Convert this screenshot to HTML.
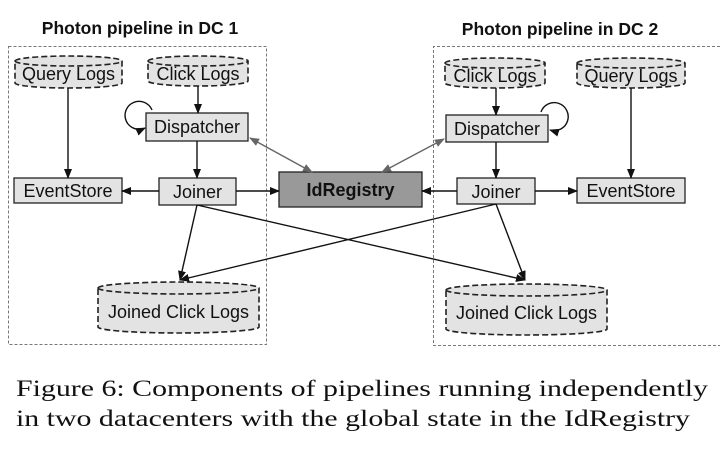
<!DOCTYPE html>
<html><head><meta charset="utf-8"><style>
html,body{margin:0;padding:0;background:#fff;width:720px;height:450px;overflow:hidden}
svg{display:block}
text{font-family:"Liberation Sans",Arial,sans-serif;fill:#111}
</style></head><body>
<svg width="720" height="450" viewBox="0 0 720 450" xmlns="http://www.w3.org/2000/svg">
<defs>
<marker id="a" markerWidth="10" markerHeight="8" refX="9" refY="4" orient="auto" markerUnits="userSpaceOnUse"><path d="M0,0 L10,4 L0,8 z" fill="#111"/></marker>
<marker id="g" markerWidth="10" markerHeight="8" refX="9" refY="4" orient="auto" markerUnits="userSpaceOnUse"><path d="M0,0 L10,4 L0,8 z" fill="#666"/></marker>
<marker id="gs" markerWidth="10" markerHeight="8" refX="1" refY="4" orient="auto" markerUnits="userSpaceOnUse"><path d="M10,0 L0,4 L10,8 z" fill="#666"/></marker>
</defs>

<text x="140" y="34" text-anchor="middle" font-size="17.5" font-weight="bold">Photon pipeline in DC 1</text>
<text x="560" y="35" text-anchor="middle" font-size="17.5" font-weight="bold">Photon pipeline in DC 2</text>

<rect x="8.5" y="46.5" width="258" height="298" fill="none" stroke="#777" stroke-width="1" stroke-dasharray="3,2"/>
<path d="M720,46.5 L433.5,46.5 L433.5,345.5 L720,345.5" fill="none" stroke="#777" stroke-width="1" stroke-dasharray="3,2"/>

<g stroke="#222" stroke-width="1.6" stroke-dasharray="6,3" fill="#e3e3e3">
<path d="M15,61 A53.5,5 0 0 1 122,61 L122,83 A53.5,5 0 0 1 15,83 Z"/><path d="M15,61 A53.5,5 0 0 0 122,61" fill="none"/>
<path d="M148,61 A50,5 0 0 1 248,61 L248,81 A50,5 0 0 1 148,81 Z"/><path d="M148,61 A50,5 0 0 0 248,61" fill="none"/>
<path d="M445,63 A50,5 0 0 1 545,63 L545,83 A50,5 0 0 1 445,83 Z"/><path d="M445,63 A50,5 0 0 0 545,63" fill="none"/>
<path d="M577,63 A54,5 0 0 1 685,63 L685,83 A54,5 0 0 1 577,83 Z"/><path d="M577,63 A54,5 0 0 0 685,63" fill="none"/>
<path d="M98,288 A80.5,6 0 0 1 259,288 L259,327 A80.5,6 0 0 1 98,327 Z"/><path d="M98,288 A80.5,6 0 0 0 259,288" fill="none"/>
<path d="M446,290 A80.5,6 0 0 1 607,290 L607,329 A80.5,6 0 0 1 446,329 Z"/><path d="M446,290 A80.5,6 0 0 0 607,290" fill="none"/>
</g>

<g stroke="#222" stroke-width="1.3" fill="#e3e3e3">
<rect x="146" y="113" width="102" height="28"/>
<rect x="14" y="178" width="108" height="25"/>
<rect x="159" y="178" width="77" height="27"/>
<rect x="446" y="115" width="102" height="27"/>
<rect x="457" y="178" width="78" height="26"/>
<rect x="577" y="178" width="108" height="25"/>
<rect x="279" y="172" width="143" height="35" fill="#999"/>
</g>

<g font-size="18">
<text x="68.5" y="80" text-anchor="middle">Query Logs</text>
<text x="198" y="80" text-anchor="middle">Click Logs</text>
<text x="495" y="82" text-anchor="middle">Click Logs</text>
<text x="631" y="82" text-anchor="middle">Query Logs</text>
<text x="178.5" y="318" text-anchor="middle">Joined Click Logs</text>
<text x="526.5" y="319" text-anchor="middle">Joined Click Logs</text>
<text x="197" y="133" text-anchor="middle">Dispatcher</text>
<text x="68" y="197" text-anchor="middle">EventStore</text>
<text x="197.5" y="198" text-anchor="middle">Joiner</text>
<text x="497" y="135" text-anchor="middle">Dispatcher</text>
<text x="496" y="198" text-anchor="middle">Joiner</text>
<text x="631" y="197" text-anchor="middle">EventStore</text>
<text x="350.5" y="196" text-anchor="middle" font-weight="bold">IdRegistry</text>
</g>

<g stroke="#111" stroke-width="1.4" fill="none">
<line x1="68" y1="88" x2="68" y2="178" marker-end="url(#a)"/>
<line x1="198" y1="86" x2="198" y2="113" marker-end="url(#a)"/>
<line x1="197" y1="141" x2="197" y2="178" marker-end="url(#a)"/>
<line x1="159" y1="191" x2="122" y2="191" marker-end="url(#a)"/>
<line x1="236" y1="191" x2="279" y2="191" marker-end="url(#a)"/>
<line x1="457" y1="191" x2="422" y2="191" marker-end="url(#a)"/>
<line x1="535" y1="191" x2="577" y2="191" marker-end="url(#a)"/>
<line x1="631" y1="88" x2="631" y2="178" marker-end="url(#a)"/>
<line x1="496" y1="88" x2="496" y2="115" marker-end="url(#a)"/>
<line x1="496" y1="142" x2="496" y2="178" marker-end="url(#a)"/>
<line x1="197" y1="205" x2="180" y2="280" marker-end="url(#a)"/>
<line x1="197" y1="205" x2="525" y2="280" marker-end="url(#a)"/>
<line x1="496" y1="204" x2="180" y2="280" marker-end="url(#a)"/>
<line x1="496" y1="204" x2="525" y2="280" marker-end="url(#a)"/>
<path d="M152,110 A14,14 0 1 0 145,128" marker-end="url(#a)"/>
<path d="M541,112 A14,14 0 1 1 550,130" marker-end="url(#a)"/>
</g>
<g stroke="#666" stroke-width="1.4">
<line x1="250" y1="138" x2="312" y2="172" marker-start="url(#gs)" marker-end="url(#g)"/>
<line x1="444" y1="139" x2="382" y2="172" marker-start="url(#gs)" marker-end="url(#g)"/>
</g>

<g font-size="23">
<text x="16" y="396" textLength="692" lengthAdjust="spacingAndGlyphs" style="font-family:'Liberation Serif',serif">Figure 6:  Components of pipelines running independently</text>
<text x="16" y="426" textLength="674" lengthAdjust="spacingAndGlyphs" style="font-family:'Liberation Serif',serif">in two datacenters with the global state in the IdRegistry</text>
</g>
</svg>
</body></html>
